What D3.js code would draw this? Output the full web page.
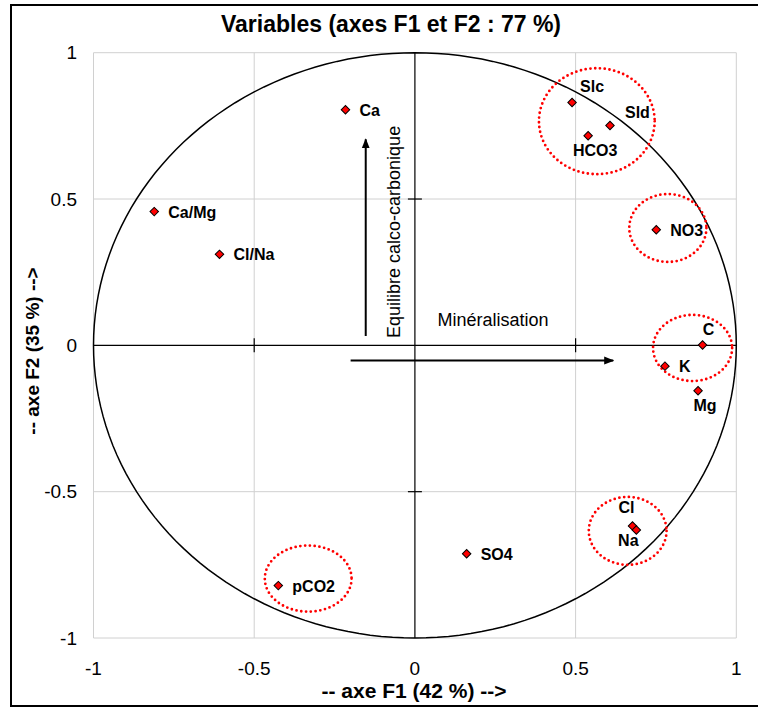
<!DOCTYPE html>
<html>
<head>
<meta charset="utf-8">
<script src="https://cdn.jsdelivr.net/npm/d3@7"></script>
<style>
  html, body { margin: 0; padding: 0; background: #fff; }
  svg { display: block; font-family: "Liberation Sans", Arial, sans-serif; }
</style>
</head>
<body>
<div id="chart"></div>
<script>
// ---- data ----
const variables = ["Ca", "Slc", "Sld", "HCO3", "NO3", "C", "K", "Mg", "Cl", "Na", "SO4", "pCO2", "Ca/Mg", "Cl/Na"];
const f1 = [-0.216, 0.489, 0.607, 0.539, 0.751, 0.895, 0.778, 0.881, 0.677, 0.689, 0.161, -0.425, -0.811, -0.608];
const f2 = [0.805, 0.830, 0.751, 0.716, 0.395, 0.001, -0.071, -0.155, -0.617, -0.631, -0.712, -0.821, 0.457, 0.311];
const labelSide = ["right", "aboveRight", "rightUp", "below", "right", "above", "right", "below", "aboveLeft", "belowLeft", "right", "right", "right", "right"];
const tickValues = [-1, -0.5, 0, 0.5, 1];
const tickLabels = ["-1", "-0.5", "0", "0.5", "1"];
const title = "Variables (axes F1 et F2 : 77 %)";
const xTitle = "-- axe F1 (42 %) -->";
const yTitle = "-- axe F2 (35 %) -->";
// group ellipses (centre and radii in factor units)
const groupCx = [0.566, 0.787, 0.864, 0.662, -0.332];
const groupCy = [0.766, 0.401, -0.009, -0.634, -0.797];
const groupRx = [0.180, 0.120, 0.123, 0.121, 0.135];
const groupRy = [0.181, 0.116, 0.113, 0.116, 0.113];
// interpretation arrows (factor units)
const arrowNames = ["Equilibre calco-carbonique", "Minéralisation"];
const arrowFrom = [[-0.153, 0.032], [-0.20, -0.052]];
const arrowTo = [[-0.153, 0.704], [0.617, -0.052]];

// ---- layout ----
const W = 758, H = 708;
const x = d3.scaleLinear().domain([-1, 1]).range([93.5, 736.3]);
const y = d3.scaleLinear().domain([-1, 1]).range([638, 52.7]);

const svg = d3.select("#chart").append("svg").attr("width", W).attr("height", H);
svg.append("defs").append("marker")
  .attr("id", "arrow").attr("viewBox", "0 0 10 10").attr("refX", 9).attr("refY", 5)
  .attr("markerWidth", 10).attr("markerHeight", 10).attr("markerUnits", "userSpaceOnUse")
  .attr("orient", "auto")
  .append("path").attr("d", "M0,1 L10,5 L0,9 Z").attr("fill", "#000");

// frame
svg.append("rect").attr("x", 11).attr("y", 5).attr("width", 760).attr("height", 701)
  .attr("fill", "#fff").attr("stroke", "#000").attr("stroke-width", 2);

// grid
const grid = svg.append("g");
tickValues.forEach(v => {
  if (v !== 0) {
    grid.append("line").attr("x1", x(v)).attr("x2", x(v)).attr("y1", y(1)).attr("y2", y(-1))
      .attr("stroke", "#d0d0d0").attr("stroke-width", 1);
    grid.append("line").attr("x1", x(-1)).attr("x2", x(1)).attr("y1", y(v)).attr("y2", y(v))
      .attr("stroke", "#d0d0d0").attr("stroke-width", 1);
  }
});

// axes through zero
const axG = svg.append("g").attr("stroke", "#000").attr("stroke-width", 1.2);
axG.append("line").attr("x1", x(-1)).attr("x2", x(1)).attr("y1", y(0)).attr("y2", y(0));
axG.append("line").attr("x1", x(0)).attr("x2", x(0)).attr("y1", y(1)).attr("y2", y(-1));
tickValues.filter(v => Math.abs(v) === 0.5).forEach(v => {
  axG.append("line").attr("x1", x(v)).attr("x2", x(v)).attr("y1", y(0) - 7).attr("y2", y(0) + 7);
  axG.append("line").attr("x1", x(0) - 7).attr("x2", x(0) + 7).attr("y1", y(v)).attr("y2", y(v));
});

// tick labels
const tl = svg.append("g").attr("font-size", 19).attr("fill", "#000");
tickValues.forEach((v, i) => {
  tl.append("text").attr("x", x(v)).attr("y", 675).attr("text-anchor", "middle").text(tickLabels[i]);
  tl.append("text").attr("x", 77).attr("y", y(v)).attr("dy", "0.35em").attr("text-anchor", "end").text(tickLabels[i]);
});

// unit circle
const circ = d3.range(0, 361, 2).map(a => [Math.cos(a * Math.PI / 180), Math.sin(a * Math.PI / 180)]);
svg.append("path").datum(circ)
  .attr("d", d3.line().x(d => x(d[0])).y(d => y(d[1])))
  .attr("fill", "none").attr("stroke", "#000").attr("stroke-width", 1.5);

// group ellipses
groupCx.forEach((cx, i) => {
  svg.append("ellipse")
    .attr("cx", x(cx)).attr("cy", y(groupCy[i]))
    .attr("rx", x(groupRx[i]) - x(0)).attr("ry", y(0) - y(groupRy[i]))
    .attr("fill", "none").attr("stroke", "#ff0000").attr("stroke-width", 2.8)
    .attr("stroke-linecap", "round").attr("stroke-dasharray", "0 4.8");
});

// arrows
arrowFrom.forEach((p, i) => {
  svg.append("line")
    .attr("x1", x(p[0])).attr("y1", y(p[1])).attr("x2", x(arrowTo[i][0])).attr("y2", y(arrowTo[i][1]))
    .attr("stroke", "#000").attr("stroke-width", 2).attr("marker-end", "url(#arrow)");
});
// arrow captions
svg.append("text")
  .attr("transform", `translate(${x(arrowFrom[0][0]) + 34},${y(arrowFrom[0][1]) + 2}) rotate(-90)`)
  .attr("font-size", 18).attr("fill", "#000").text(arrowNames[0]);
svg.append("text")
  .attr("x", x(0.07)).attr("y", y(0.066))
  .attr("font-size", 18).attr("fill", "#000").text(arrowNames[1]);

// points
const pts = svg.append("g");
variables.forEach((name, i) => {
  const px = x(f1[i]), py = y(f2[i]);
  pts.append("path")
    .attr("d", d3.symbol().type(d3.symbolSquare).size(36)())
    .attr("transform", `translate(${px},${py}) rotate(45)`)
    .attr("fill", "#ff0000").attr("stroke", "#000").attr("stroke-width", 1);
  const t = pts.append("text").attr("font-size", 16).attr("font-weight", "bold").attr("fill", "#000").text(name);
  const side = labelSide[i];
  if (side === "right") t.attr("x", px + 14).attr("y", py + 6);
  else if (side === "above") t.attr("x", px + 6).attr("y", py - 10).attr("text-anchor", "middle");
  else if (side === "below") t.attr("x", px + 7).attr("y", py + 20).attr("text-anchor", "middle");
  else if (side === "aboveLeft") t.attr("x", px - 6).attr("y", py - 13).attr("text-anchor", "middle");
  else if (side === "belowLeft") t.attr("x", px - 8).attr("y", py + 16).attr("text-anchor", "middle");
  else if (side === "aboveRight") t.attr("x", px + 8).attr("y", py - 10);
  else if (side === "rightUp") t.attr("x", px + 15).attr("y", py - 8);
});

// titles
svg.append("text").attr("x", 391).attr("y", 32).attr("text-anchor", "middle")
  .attr("font-size", 23).attr("font-weight", "bold").text(title);
svg.append("text").attr("x", 414).attr("y", 698).attr("text-anchor", "middle")
  .attr("font-size", 21).attr("font-weight", "bold").text(xTitle);
svg.append("text").attr("transform", "translate(39,351) rotate(-90)").attr("text-anchor", "middle")
  .attr("font-size", 19).attr("font-weight", "bold").text(yTitle);
</script>
</body>
</html>
